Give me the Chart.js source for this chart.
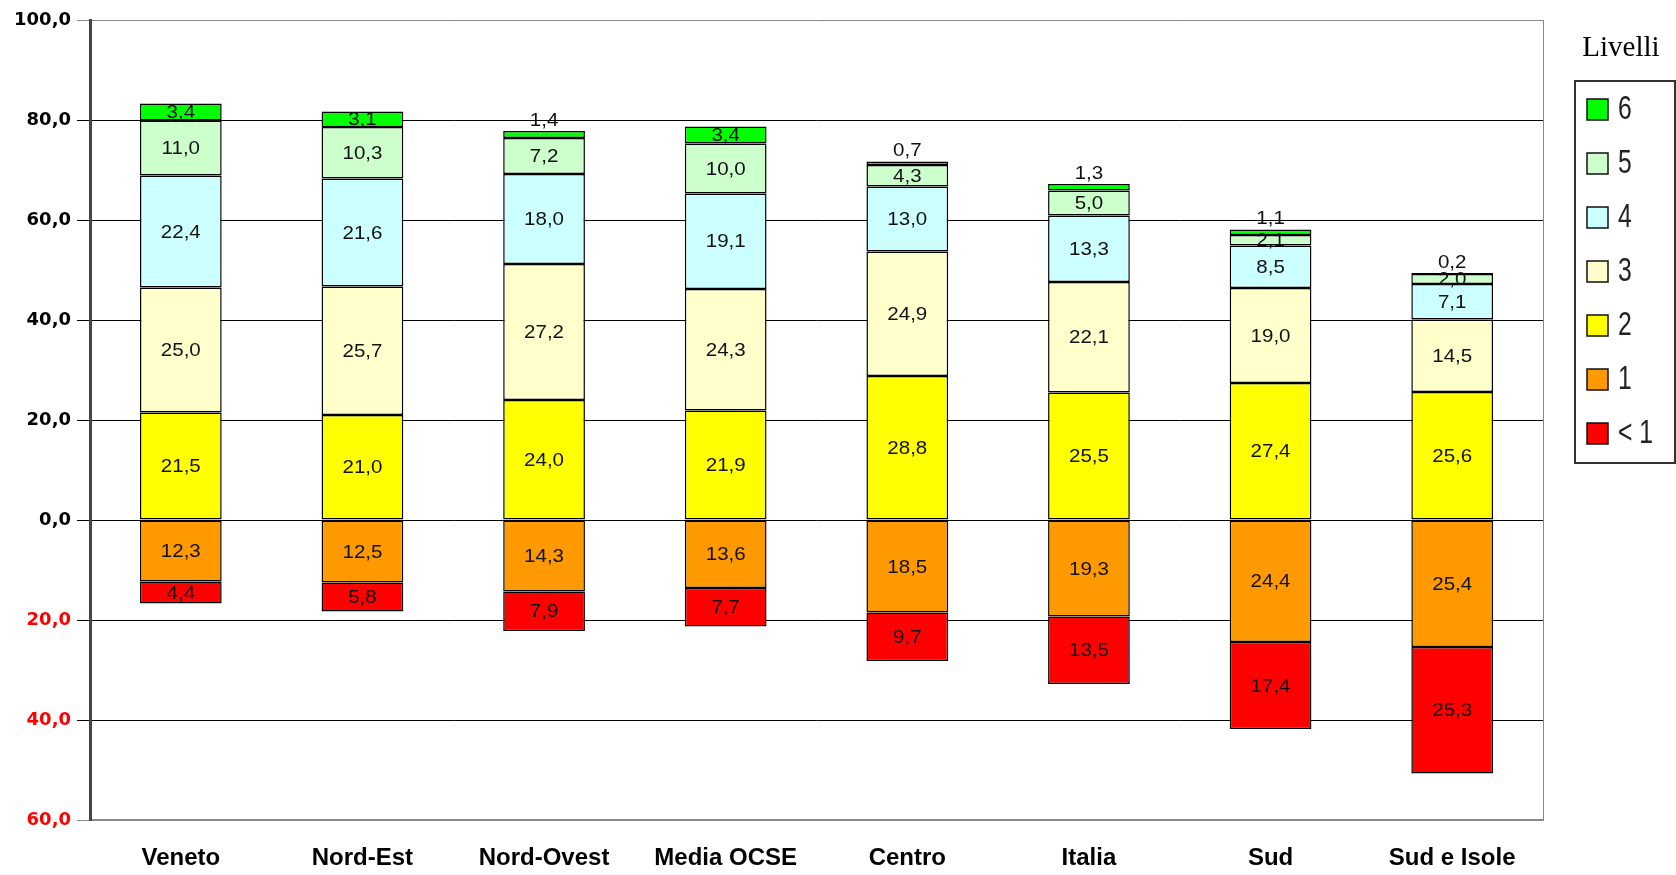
<!DOCTYPE html>
<html lang="it">
<head>
<meta charset="UTF-8">
<title>Livelli per area</title>
<style>
  html, body { margin: 0; padding: 0; background: #fff; }
  #wrap { width: 1676px; height: 875px; position: relative; }
</style>
</head>
<body>
<div id="wrap"><canvas id="chart"></canvas></div>
<script src="https://cdn.jsdelivr.net/npm/chart.js"></script>
<script>
const categories = ['Veneto', 'Nord-Est', 'Nord-Ovest', 'Media OCSE', 'Centro', 'Italia', 'Sud', 'Sud e Isole'];
// percentuali; "< 1" e "1" vanno sotto lo zero
const below1 = [4.4, 5.8, 7.9, 7.7, 9.7, 13.5, 17.4, 25.3];
const level1 = [12.3, 12.5, 14.3, 13.6, 18.5, 19.3, 24.4, 25.4];
const level2 = [21.5, 21.0, 24.0, 21.9, 28.8, 25.5, 27.4, 25.6];
const level3 = [25.0, 25.7, 27.2, 24.3, 24.9, 22.1, 19.0, 14.5];
const level4 = [22.4, 21.6, 18.0, 19.1, 13.0, 13.3, 8.5, 7.1];
const level5 = [11.0, 10.3, 7.2, 10.0, 4.3, 5.0, 2.1, 2.0];
const level6 = [3.4, 3.1, 1.4, 3.4, 0.7, 1.3, 1.1, 0.2];
const yTicks = [-60, -40, -20, 0, 20, 40, 60, 80, 100];

const fmt = v => Math.abs(v).toFixed(1).replace('.', ',');
const neg = arr => arr.map(v => -v);

// order matters for stacking: "1" sits next to zero, "< 1" below it
const datasets = [
  { label: '1', data: neg(level1), backgroundColor: '#ff9900' },
  { label: '< 1', data: neg(below1), backgroundColor: '#ff0000' },
  { label: '2', data: level2, backgroundColor: '#ffff00' },
  { label: '3', data: level3, backgroundColor: '#ffffcc' },
  { label: '4', data: level4, backgroundColor: '#ccffff' },
  { label: '5', data: level5, backgroundColor: '#ccffcc' },
  { label: '6', data: level6, backgroundColor: '#00ff00' }
].map(d => Object.assign(d, {
  borderColor: '#000', borderWidth: 1.5, borderSkipped: false,
  categoryPercentage: 0.9, barPercentage: 0.5
}));

const legendOrder = ['6', '5', '4', '3', '2', '1', '< 1'];

const valueLabels = {
  id: 'valueLabels',
  afterDatasetsDraw(chart) {
    const ctx = chart.ctx;
    ctx.save();
    ctx.font = '19px "Liberation Sans", Arial, sans-serif';
    ctx.fillStyle = '#111';
    ctx.textAlign = 'center';
    chart.data.datasets.forEach((ds, i) => {
      chart.getDatasetMeta(i).data.forEach((bar, j) => {
        const top = Math.min(bar.y, bar.base);
        const bottom = Math.max(bar.y, bar.base);
        let y = (top + bottom) / 2 + 1;
        ctx.textBaseline = 'middle';
        if (bottom - top < 8) { y = top - 1; ctx.textBaseline = 'bottom'; }
        ctx.save();
        ctx.translate(bar.x, y);
        ctx.scale(1.08, 1);
        ctx.fillText(fmt(ds.data[j]), 0, 0);
        ctx.restore();
      });
    });
    ctx.restore();
  }
};

const frameAndLegend = {
  id: 'frameAndLegend',
  afterDraw(chart) {
    const ctx = chart.ctx;
    const a = chart.chartArea;
    ctx.save();
    // right edge of plot area
    ctx.strokeStyle = '#888';
    ctx.lineWidth = 1;
    ctx.beginPath();
    ctx.moveTo(a.right + 0.5, a.top);
    ctx.lineTo(a.right + 0.5, a.bottom);
    ctx.stroke();

    // legend
    ctx.fillStyle = '#000';
    ctx.font = '29px "Liberation Serif", "Times New Roman", serif';
    ctx.textAlign = 'center';
    ctx.textBaseline = 'alphabetic';
    ctx.fillText('Livelli', 1621, 56);

    ctx.strokeStyle = '#333';
    ctx.lineWidth = 2;
    ctx.strokeRect(1575, 81, 100, 382);

    legendOrder.forEach((lab, k) => {
      const ds = chart.data.datasets.find(d => d.label === lab);
      const cy = 109 + k * 54;
      ctx.fillStyle = ds.backgroundColor;
      ctx.fillRect(1587, cy - 10, 21, 21);
      ctx.strokeStyle = '#111';
      ctx.lineWidth = 1.5;
      ctx.strokeRect(1587, cy - 10, 21, 21);
      ctx.save();
      ctx.translate(1618, cy + 1);
      ctx.scale(0.75, 1);
      ctx.fillStyle = '#222';
      ctx.font = '33px "Liberation Sans", Arial, sans-serif';
      ctx.textAlign = 'left';
      ctx.textBaseline = 'middle';
      ctx.fillText(lab, 0, 0);
      ctx.restore();
    });
    ctx.restore();
  }
};

new Chart(document.getElementById('chart'), {
  type: 'bar',
  data: { labels: categories, datasets: datasets },
  options: {
    responsive: true,
    maintainAspectRatio: false,
    animation: false,
    layout: { padding: { top: 20, right: 133, left: 0, bottom: 0 } },
    plugins: { legend: { display: false }, tooltip: { enabled: false } },
    scales: {
      x: {
        stacked: true,
        grid: { display: false },
        border: { display: true, color: '#888', width: 2 },
        ticks: {
          color: '#000',
          padding: 16,
          font: { family: '"Liberation Sans", Arial, sans-serif', size: 24, weight: 'bold' }
        },
        afterFit: s => { s.height = 55; }
      },
      y: {
        stacked: true,
        min: yTicks[0],
        max: yTicks[yTicks.length - 1],
        afterBuildTicks: s => { s.ticks = yTicks.map(v => ({ value: v })); },
        grid: {
          color: c => (c.tick && (c.tick.value === 100 || c.tick.value === -60)) ? '#888' : '#000',
          lineWidth: 1,
          tickLength: 13,
          drawTicks: true
        },
        border: { display: true, color: '#444', width: 3 },
        ticks: {
          padding: 6,
          color: c => (c.tick && c.tick.value < 0) ? '#ff0000' : '#000',
          font: { family: '"DejaVu Sans", Arial, sans-serif', size: 18, weight: 'bold' },
          callback: v => fmt(v)
        },
        afterFit: s => { s.width = 90; }
      }
    }
  },
  plugins: [valueLabels, frameAndLegend]
});
</script>
</body>
</html>
